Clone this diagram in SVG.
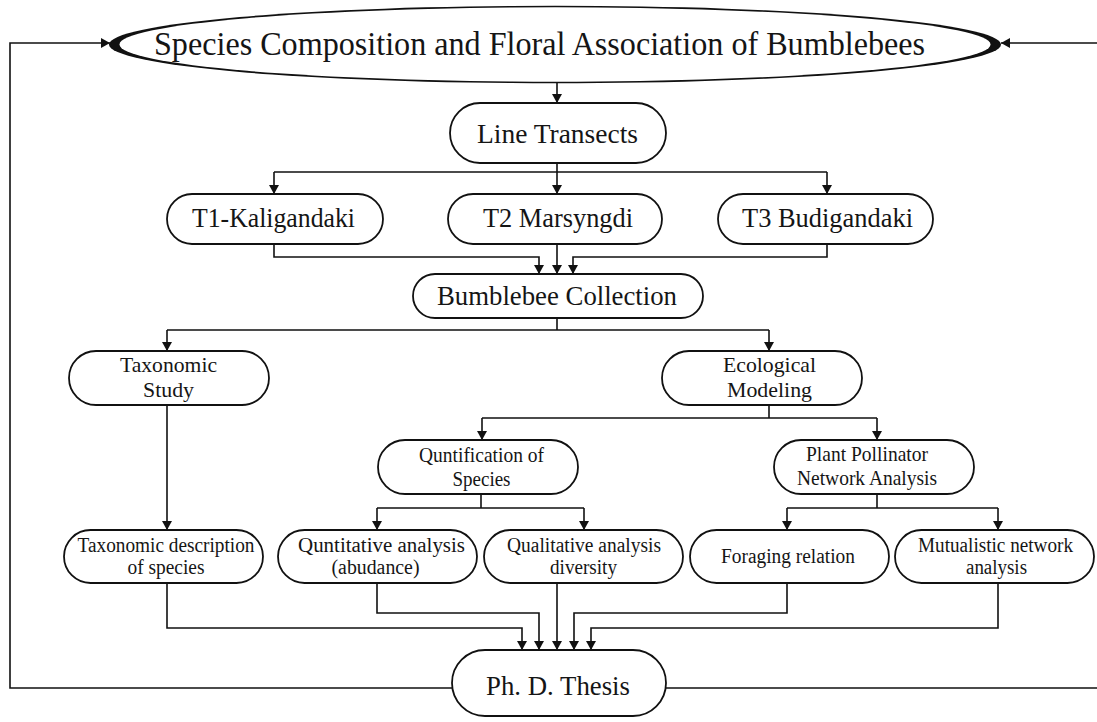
<svg xmlns="http://www.w3.org/2000/svg" width="1097" height="722" viewBox="0 0 1097 722">
<style>
.box{fill:#fff;stroke:#111;stroke-width:1.8}
.ln{fill:none;stroke:#111;stroke-width:1.6}
.arr{marker-end:url(#ah)}
text{font-family:"Liberation Serif","Times New Roman",serif;fill:#151515;text-anchor:middle}
.t1{font-size:34px}
.t2{font-size:27px}
.t3{font-size:21px}
.t4{font-size:20.5px}
</style>
<defs>
<marker id="ah" markerWidth="12" markerHeight="12" refX="9" refY="6" orient="auto" markerUnits="userSpaceOnUse">
<path d="M0,1 L9,6 L0,11 z" fill="#111"/>
</marker>
</defs>
<rect width="1097" height="722" fill="#fff"/>
<g id="connectors">
<path class="ln arr" d="M557,83 V103"/>
<path class="ln" d="M557,163 V172 M274,172 H827"/>
<path class="ln arr" d="M274,172 V194"/>
<path class="ln arr" d="M557,172 V194"/>
<path class="ln arr" d="M827,172 V194"/>
<path class="ln arr" d="M274,244 V257 H539 V274"/>
<path class="ln arr" d="M557,244 V274"/>
<path class="ln arr" d="M827,244 V257 H573 V274"/>
<path class="ln" d="M557,318 V330 M167,330 H769"/>
<path class="ln arr" d="M167,330 V351"/>
<path class="ln arr" d="M769,330 V351"/>
<path class="ln arr" d="M167,405 V530"/>
<path class="ln" d="M769,405 V418 M482,418 H877"/>
<path class="ln arr" d="M482,418 V440"/>
<path class="ln arr" d="M877,418 V440"/>
<path class="ln" d="M481,494 V508 M377,508 H584"/>
<path class="ln arr" d="M377,508 V530"/>
<path class="ln arr" d="M584,508 V530"/>
<path class="ln" d="M877,494 V508 M787,508 H998"/>
<path class="ln arr" d="M787,508 V530"/>
<path class="ln arr" d="M998,508 V530"/>
<path class="ln arr" d="M167,583 V628 H522 V650"/>
<path class="ln arr" d="M377,583 V613 H539 V650"/>
<path class="ln arr" d="M557,583 V650"/>
<path class="ln arr" d="M787,583 V613 H574 V650"/>
<path class="ln arr" d="M998,583 V628 H591 V650"/>
<path class="ln arr" d="M452,688 H10 V43 H110"/>
<path class="ln arr" d="M666,688 H1100 V43 H1001"/>
</g>
<g id="title">
<ellipse cx="555" cy="44.5" rx="446" ry="38.8" fill="#111"/>
<ellipse cx="555" cy="44.5" rx="435.5" ry="37.2" fill="#fff"/>
<text class="t1" x="539.5" y="55" textLength="771" lengthAdjust="spacingAndGlyphs">Species Composition and Floral Association of Bumblebees</text>
</g>
<g id="line-transects">
<rect class="box" x="450" y="103" width="216" height="60" rx="30"/>
<text class="t2" x="557.5" y="143" textLength="161" lengthAdjust="spacingAndGlyphs">Line Transects</text>
</g>
<g id="t1">
<rect class="box" x="167" y="194" width="216" height="50" rx="25"/>
<text class="t2" x="273.5" y="227" textLength="163" lengthAdjust="spacingAndGlyphs">T1-Kaligandaki</text>
</g>
<g id="t2">
<rect class="box" x="448" y="194" width="214" height="50" rx="25"/>
<text class="t2" x="558" y="227" textLength="150" lengthAdjust="spacingAndGlyphs">T2 Marsyngdi</text>
</g>
<g id="t3">
<rect class="box" x="718" y="194" width="215" height="50" rx="25"/>
<text class="t2" x="827.5" y="227" textLength="171" lengthAdjust="spacingAndGlyphs">T3 Budigandaki</text>
</g>
<g id="bumblebee-collection">
<rect class="box" x="413" y="274" width="290" height="44" rx="22"/>
<text class="t2" x="557" y="305" textLength="240" lengthAdjust="spacingAndGlyphs">Bumblebee Collection</text>
</g>
<g id="taxonomic-study">
<rect class="box" x="69" y="351" width="200" height="54" rx="27"/>
<text class="t3" x="168.5" y="372" textLength="97" lengthAdjust="spacingAndGlyphs">Taxonomic</text>
<text class="t3" x="168.5" y="397" textLength="51" lengthAdjust="spacingAndGlyphs">Study</text>
</g>
<g id="ecological-modeling">
<rect class="box" x="662" y="351" width="200" height="54" rx="27"/>
<text class="t3" x="769.5" y="372" textLength="93" lengthAdjust="spacingAndGlyphs">Ecological</text>
<text class="t3" x="769.5" y="397" textLength="85" lengthAdjust="spacingAndGlyphs">Modeling</text>
</g>
<g id="quantification">
<rect class="box" x="378" y="440" width="200" height="54" rx="27"/>
<text class="t3" x="481.5" y="462" textLength="125" lengthAdjust="spacingAndGlyphs">Quntification of</text>
<text class="t3" x="481.5" y="486" textLength="58" lengthAdjust="spacingAndGlyphs">Species</text>
</g>
<g id="plant-pollinator">
<rect class="box" x="774" y="440" width="200" height="54" rx="27"/>
<text class="t3" x="867" y="461" textLength="122" lengthAdjust="spacingAndGlyphs">Plant Pollinator</text>
<text class="t3" x="867" y="485" textLength="140" lengthAdjust="spacingAndGlyphs">Network Analysis</text>
</g>
<g id="taxonomic-description">
<rect class="box" x="64" y="530" width="199" height="53" rx="26.5"/>
<text class="t4" x="166" y="552" textLength="177" lengthAdjust="spacingAndGlyphs">Taxonomic description</text>
<text class="t4" x="166" y="574" textLength="77" lengthAdjust="spacingAndGlyphs">of species</text>
</g>
<g id="quantitative-analysis">
<rect class="box" x="278" y="530" width="199" height="53" rx="26.5"/>
<text class="t4" x="381.5" y="552" textLength="167" lengthAdjust="spacingAndGlyphs">Quntitative analysis</text>
<text class="t4" x="375.5" y="574" textLength="88" lengthAdjust="spacingAndGlyphs">(abudance)</text>
</g>
<g id="qualitative-analysis">
<rect class="box" x="484" y="530" width="199" height="53" rx="26.5"/>
<text class="t4" x="584" y="552" textLength="154" lengthAdjust="spacingAndGlyphs">Qualitative analysis</text>
<text class="t4" x="583.5" y="574" textLength="67" lengthAdjust="spacingAndGlyphs">diversity</text>
</g>
<g id="foraging-relation">
<rect class="box" x="690" y="530" width="199" height="53" rx="26.5"/>
<text class="t4" x="788" y="563" textLength="134" lengthAdjust="spacingAndGlyphs">Foraging relation</text>
</g>
<g id="mutualistic-network">
<rect class="box" x="895" y="530" width="199" height="53" rx="26.5"/>
<text class="t4" x="995.5" y="552" textLength="155" lengthAdjust="spacingAndGlyphs">Mutualistic network</text>
<text class="t4" x="996.5" y="574" textLength="61" lengthAdjust="spacingAndGlyphs">analysis</text>
</g>
<g id="phd-thesis">
<rect class="box" x="452" y="650" width="214" height="66" rx="33"/>
<text class="t2" x="558" y="695" style="font-size:28px" textLength="144" lengthAdjust="spacingAndGlyphs">Ph. D. Thesis</text>
</g>
</svg>
